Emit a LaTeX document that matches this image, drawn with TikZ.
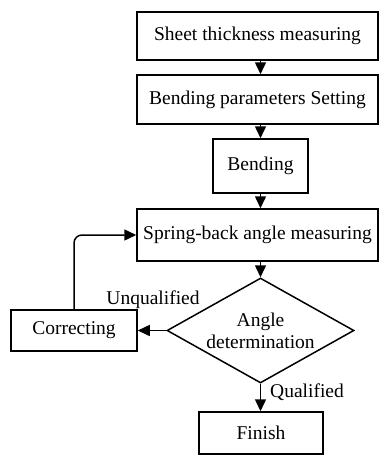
\documentclass[tikz,border=0pt]{standalone}
\usepackage{fontspec}
\setmainfont{Liberation Serif}
\usetikzlibrary{shapes.geometric,arrows.meta}

\begin{document}
\begin{tikzpicture}[x=1pt,y=-1pt,line width=1.5pt,
        every node/.style={font=\fontsize{19.5}{22}\selectfont},
        box/.style={draw,rectangle,inner sep=0pt},
        flow/.style={-{Triangle[length=12pt,width=11pt]}}]
    \useasboundingbox (0,0) rectangle (379,455);
    \node[box,minimum width=241pt,minimum height=48pt] (sheet) at (257.5,36) {Sheet thickness measuring};
    \node[box,minimum width=241pt,minimum height=49pt] (param) at (257.5,99.5) {Bending parameters Setting};
    \node[box,minimum width=95pt,minimum height=54pt] (bend) at (260.5,166) {Bending};
    \node[box,minimum width=241pt,minimum height=52pt] (spring) at (257.5,235) {Spring-back angle measuring};
    \node[draw,diamond,aspect=1.78,inner sep=0pt,align=center,minimum width=187pt,minimum height=105pt] (judge) at (260.5,330.5) {Angle\\determination};
    \node[box,minimum width=126pt,minimum height=41pt] (correct) at (74,330.5) {Correcting};
    \node[box,minimum width=124pt,minimum height=42pt] (finish) at (261,433) {Finish};
    \draw[flow] (sheet.south -| bend.center) -- (param.north -| bend.center);
    \draw[flow] (param.south -| bend.center) -- (bend.north);
    \draw[flow] (bend.south) -- (spring.north -| bend.center);
    \draw[flow] (spring.south -| judge.north) -- (judge.north);
    \draw[flow] (judge.west) -- (correct.east);
    \draw[flow] (judge.south) -- (finish.north -| judge.south);
    \draw[flow,rounded corners=8pt] (correct.north) |- (spring.west);
    \node (unq) at (153,300) {Unqualified};
    \node (qua) at (307,392) {Qualified};
\end{tikzpicture}
\end{document}
